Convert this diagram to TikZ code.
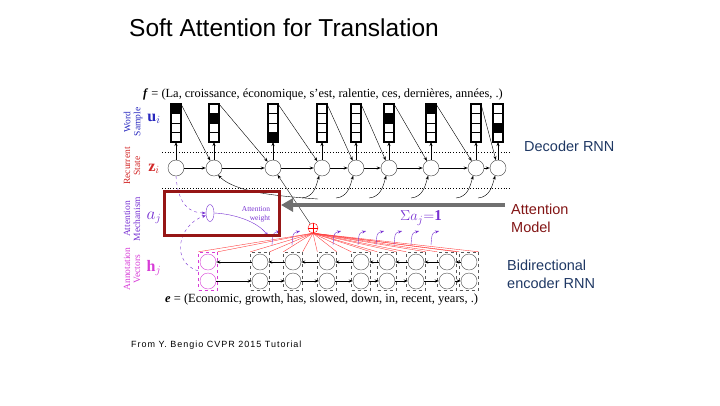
\documentclass[tikz,border=0pt]{standalone}
\usepackage{fontspec}
\setmainfont{Liberation Serif}
\setsansfont{Liberation Sans}
\usetikzlibrary{arrows.meta,positioning,shapes.geometric}
\definecolor{boxred}{RGB}{150,22,22}
\definecolor{modelred}{RGB}{130,20,20}
\definecolor{rnnblue}{RGB}{31,56,100}
\definecolor{arrowgray}{RGB}{112,112,112}
\definecolor{wsblue}{RGB}{40,40,190}
\definecolor{rsred}{RGB}{210,40,40}
\definecolor{ampurple}{RGB}{120,50,210}
\definecolor{avmagenta}{RGB}{215,60,215}

\begin{document}
\begin{tikzpicture}[
  x=1pt, y=-1pt,
  >={Stealth[length=4pt,width=3pt]},
  ucol/.style={draw, line width=1.1pt, minimum width=10pt, minimum height=38pt, inner sep=0pt, outer sep=0pt},
  zc/.style={circle, draw=black!75, minimum size=16pt, inner sep=0pt},
  hbox/.style={draw=black!65, dashed, minimum width=19pt, minimum height=38pt, inner sep=0pt},
  hc/.style={circle, draw=black!70, minimum size=16pt, inner sep=0pt},
  side/.style={font=\sffamily\fontsize{14.5}{18}\selectfont, align=left, inner sep=0pt},
  lbl/.style={rotate=90, align=center, font=\fontsize{9.5}{10}\selectfont, inner sep=0pt},
  sym/.style={font=\fontsize{16}{17}\selectfont, inner sep=0pt},
  att/.style={draw=ampurple, thin},
  fan/.style={red!75, line width=0.4pt}
]
\useasboundingbox (0,0) rectangle (720,405);

% title, side notes and source
\node[anchor=base west, font=\sffamily\fontsize{24.5}{28}\selectfont, inner sep=0pt] (title) at (129,36) {Soft Attention for Translation};
\node[side, anchor=base west, rnnblue] (dec) at (524,151) {Decoder RNN};
\node[side, anchor=west, modelred] (model) at (511,218) {Attention\\Model};
\node[side, anchor=west, rnnblue] (enc) at (507,274) {Bidirectional\\encoder RNN};
\node[anchor=base west, font=\sffamily\fontsize{9}{11}\selectfont\addfontfeature{LetterSpace=11}, inner sep=0pt] (src) at (131,347) {From Y. Bengio CVPR 2015 Tutorial};

% row labels
\node[lbl, wsblue] (lws) at (133,122) {Word\\Sample};
\node[sym, wsblue] (lu) at (154,119) {$\mathbf{u}_i$};
\node[lbl, rsred] (lrs) at (132,166) {Recurrent\\State};
\node[sym, rsred] (lz) at (154,169) {$\mathbf{z}_i$};
\node[lbl, ampurple] (lam) at (132,219) {Attention\\Mechanism};
\node[sym, ampurple] (la) at (154,218) {$a_j$};
\node[lbl, avmagenta] (lav) at (132,269) {Annotation\\Vectors};
\node[sym, avmagenta] (lh) at (154,268) {$\mathbf{h}_j$};

% sentences
\node[anchor=base west, font=\fontsize{12.4}{14}\selectfont, inner sep=0pt] (fwords) at (143,97) {\textbf{\textit{f}} = (La, croissance, économique, s'est, ralentie, ces, dernières, années, .)};
\node[anchor=base west, font=\fontsize{12.5}{14}\selectfont, inner sep=0pt] (ewords) at (165,302) {\textbf{\textit{e}} = (Economic, growth, has, slowed, down, in, recent, years, .)};

% decoder: word samples and states
\draw[dotted, thick] (162,152) -- (510,152);
\draw[dotted, thick] (162,188) -- (510,188);
\foreach \i/\x/\s in {1/176/1, 2/214/2, 3/273/4, 4/322/0, 5/356/0, 6/389/2, 7/431/1, 8/476/0, 9/498/3} {
  \node[zc] (z\i) at (\x,168) {};
  \node[ucol] (u\i) at (\x,123) {};
  \ifnum\s>0 \fill (u\i.north west) ++(0,{(\s-1)*9.5}) rectangle ++(10,9.5); \fi
  \foreach \k in {1,2,3} \draw[line width=0.8pt] (u\i.north west) ++(0,{\k*9.5}) -- ++(10,0);
  \draw[->] (z\i) -- (u\i);
}
\foreach \i [count=\j from 2] in {1,...,8} {
  \draw[->, thick] (z\i) -- (z\j);
  \draw[->] (u\i.north east) -- (z\j);
}
\foreach \i in {4,...,9} {
  \coordinate (in\i) at ([xshift=-20pt, yshift=-30pt]z\i.center);
  \draw[->] (in\i) .. controls +(12,-1) and +(-3,10) .. (z\i.-110);
}
\coordinate (in2) at (318,199);
\draw[->] (in2) .. controls (275,196) and (235,192) .. (z2.-60);

% encoder
\node[hbox, draw=avmagenta] (h1) at (208,271) {};
\node[hc, draw=avmagenta] (ht1) at (208,262) {};
\node[hc, draw=avmagenta] (hb1) at (208,281) {};
\foreach \i/\x in {2/260, 3/293, 4/327, 5/361, 6/387, 7/416, 8/447, 9/469} {
  \node[hbox] (h\i) at (\x,271) {};
  \node[hc] (ht\i) at (\x,262) {};
  \node[hc] (hb\i) at (\x,281) {};
}
\foreach \i [count=\j from 2] in {1,...,8} {
  \draw[->, thick] (ht\j) -- (ht\i);
  \draw[->, thick] (hb\i) -- (hb\j);
}

% attention
\node[circle, draw=red, minimum size=10pt, inner sep=0pt] (sum) at (313,228) {};
\draw[red] (sum.north) -- (sum.south) (sum.west) -- (sum.east);
\foreach \i in {1,...,9} {
  \draw[fan] (sum.south) -- (h\i.north west);
  \draw[fan] (sum.south) -- (h\i.north east);
}
\draw[->] (sum) -- (z3);
\node[ampurple, font=\fontsize{15}{17}\selectfont, inner sep=0pt] (norm) at (421,218) {$\Sigma a_j{=}\mathbf{1}$};
\foreach \x [count=\i] in {272,292,333,358,376,394,411,431} {
  \coordinate (cl\i) at (\x,245);
  \draw[att, ->] (cl\i) .. controls +(1,-12) .. +(8,-14);
}
\node[ellipse, draw=ampurple, minimum width=8pt, minimum height=17pt, inner sep=0pt] (ell) at (210,213) {};
\node[ampurple, font=\fontsize{7.5}{9}\selectfont, align=right, inner sep=0pt] (aw) at (256,214) {Attention\\weight};
\coordinate (awend) at (268,236);
\draw[att, ->] (ell.east) .. controls (235,214) and (258,222) .. (awend);
\draw[att, dashed, ->] (z1.south) .. controls (178,205) and (190,213) .. (ell.west);
\draw[att, dashed, ->] (h1.west) .. controls (170,262) and (178,225) .. (ell.-150);
\node[draw=boxred, line width=3pt, minimum width=115pt, minimum height=44pt, inner sep=0pt] (attbox) at (222,213.5) {};
\coordinate (gtail) at (505,205);
\draw[line width=4pt, arrowgray, -{Triangle[length=12pt,width=13pt]}] (gtail) -- (attbox.east |- gtail);
\end{tikzpicture}
\end{document}
